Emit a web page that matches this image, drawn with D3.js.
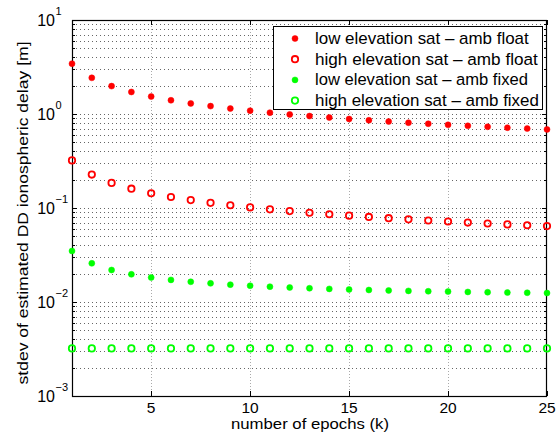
<!DOCTYPE html>
<html><head><meta charset="utf-8">
<script src="https://cdn.jsdelivr.net/npm/d3@7"></script>
<style>body{margin:0;background:#fff}svg{display:block}text{font-family:"Liberation Sans",Arial,sans-serif}</style>
</head><body><svg id="c" width="560" height="436"></svg>
<script>
const epochs = [1,2,3,4,5,6,7,8,9,10,11,12,13,14,15,16,17,18,19,20,21,22,23,24,25];
const lowFloat = [3.43,2.425,1.98,1.715,1.534,1.40,1.296,1.213,1.143,1.085,1.034,0.990,0.951,0.917,0.886,0.858,0.832,0.808,0.787,0.767,0.748,0.731,0.715,0.700,0.686];
const highFloat = [0.321,0.227,0.185,0.1605,0.1436,0.131,0.1213,0.1135,0.107,0.1015,0.0968,0.0927,0.089,0.0858,0.0829,0.0803,0.0779,0.0757,0.0736,0.0718,0.070,0.0684,0.0669,0.0655,0.0642];
const lowFixed = [0.0349,0.0258,0.0219,0.0197,0.01823,0.01719,0.01641,0.01579,0.0153,0.01489,0.01455,0.01426,0.01401,0.01379,0.01359,0.01342,0.01327,0.01313,0.01301,0.0129,0.01279,0.0127,0.01261,0.01254,0.01246];
const highFixed = [0.00321,0.00321,0.00321,0.00321,0.00321,0.00321,0.00321,0.00321,0.00321,0.00321,0.00321,0.00321,0.00321,0.00321,0.00321,0.00321,0.00321,0.00321,0.00321,0.00321,0.00321,0.00321,0.00321,0.00321,0.00321];
const seriesNames = ["low elevation sat \u2013 amb float","high elevation sat \u2013 amb float","low elevation sat \u2013 amb fixed","high elevation sat \u2013 amb fixed"];
const seriesColors = ["#ff0000","#ff0000","#00ff00","#00ff00"];
const seriesFilled = [true,false,true,false];
const xTicks = [5,10,15,20,25];
const yDecades = [-3,-2,-1,0,1];
const xLabel = "number of epochs (k)";
const yLabel = "stdev of estimated DD ionospheric delay [m]";

const svg = d3.select("#c");
const L=72, R=547, T=20, B=396;
const x = d3.scaleLinear().domain([1,25]).range([L,R]);
const y = d3.scaleLog().domain([1e-3,1e1]).range([B,T]);

// grid
const minorVals=[];
for (let d=-3; d<1; d++) for (let m=1; m<=9; m++) minorVals.push(m*Math.pow(10,d));
minorVals.push(10);
const g = svg.append("g");
g.selectAll(".hg").data(minorVals.filter(v=>v>1e-3 && v<1e1)).enter().append("line")
  .attr("x1",L).attr("x2",R).attr("y1",d=>Math.round(y(d))+0.5).attr("y2",d=>Math.round(y(d))+0.5)
  .attr("stroke","#666").attr("stroke-width",1).attr("stroke-dasharray","1,3");
g.selectAll(".vg").data(xTicks.filter(v=>v<25)).enter().append("line")
  .attr("y1",T).attr("y2",B).attr("x1",d=>Math.round(x(d))+0.5).attr("x2",d=>Math.round(x(d))+0.5)
  .attr("stroke","#aaa").attr("stroke-width",1).attr("stroke-dasharray","1,2");

// ticks
const tk = svg.append("g").attr("stroke","#000").attr("stroke-width",1);
minorVals.forEach(v=>{
  const yy=Math.round(y(v))+0.5;
  const major = Math.abs(Math.log10(v)-Math.round(Math.log10(v)))<1e-9;
  const len = major?5:3;
  tk.append("line").attr("x1",L).attr("x2",L+len).attr("y1",yy).attr("y2",yy);
  tk.append("line").attr("x1",R-len).attr("x2",R).attr("y1",yy).attr("y2",yy);
});
xTicks.forEach(v=>{
  const xx=Math.round(x(v))+0.5;
  tk.append("line").attr("x1",xx).attr("x2",xx).attr("y1",B).attr("y2",B-5);
  tk.append("line").attr("x1",xx).attr("x2",xx).attr("y1",T).attr("y2",T+5);
});

// box
svg.append("rect").attr("x",L+0.5).attr("y",T+0.5).attr("width",R-L-1).attr("height",B-T)
  .attr("fill","none").attr("stroke","#000").attr("stroke-width",1.2);

// tick labels
svg.selectAll(".xl").data(xTicks).enter().append("text")
  .attr("x",d=>x(d)).attr("y",412.5).attr("text-anchor","middle").attr("font-size",15.5).text(d=>d);
yDecades.forEach(e=>{
  svg.append("text").attr("x",55).attr("y",y(Math.pow(10,e))+6).attr("text-anchor","end").attr("font-size",16).text("10");
  svg.append("text").attr("x",55.5).attr("y",y(Math.pow(10,e))-5).attr("font-size",11).text(e<0?"\u2212"+(-e):String(e));
});

// axis labels
svg.append("text").attr("x",310).attr("y",429).attr("text-anchor","middle").attr("font-size",14.5)
  .attr("textLength",158).attr("lengthAdjust","spacingAndGlyphs").text(xLabel);
svg.append("text").attr("transform",`translate(28,213) rotate(-90)`).attr("text-anchor","middle").attr("font-size",15)
  .attr("textLength",343).attr("lengthAdjust","spacingAndGlyphs").text(yLabel);

// data
const allSeries=[lowFloat,highFloat,lowFixed,highFixed];
allSeries.forEach((vals,i)=>{
  svg.append("g").selectAll("circle").data(vals).enter().append("circle")
    .attr("cx",(d,j)=>x(epochs[j])).attr("cy",d=>y(d))
    .attr("r",seriesFilled[i]?3:3.2)
    .attr("fill",seriesFilled[i]?seriesColors[i]:"none")
    .attr("stroke",seriesColors[i]).attr("stroke-width",seriesFilled[i]?0.5:1.8);
});

// legend
const lg = svg.append("g");
lg.append("rect").attr("x",273.5).attr("y",26.5).attr("width",269).attr("height",83).attr("fill","#fff").attr("stroke","#000").attr("stroke-width",1);
const rowY=[38.5,59.2,79.9,100.6];
seriesNames.forEach((n,i)=>{
  lg.append("circle").attr("cx",295).attr("cy",rowY[i]).attr("r",seriesFilled[i]?3:3.2)
    .attr("fill",seriesFilled[i]?seriesColors[i]:"none").attr("stroke",seriesColors[i]).attr("stroke-width",seriesFilled[i]?0.5:1.8);
  const t=lg.append("text").attr("x",315).attr("y",rowY[i]+5.5).attr("font-size",16).text(n);
  const w=t.node().getComputedTextLength();
  const target = [214,223,213,224][i];
  t.attr("font-size",16*target/w);
});
</script></body></html>
